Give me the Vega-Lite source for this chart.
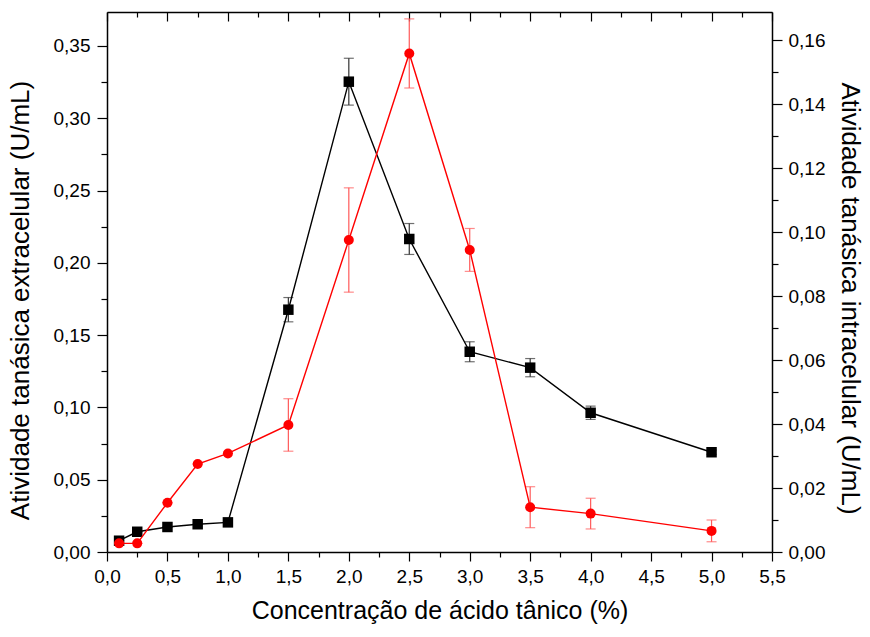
{
  "$schema": "https://vega.github.io/schema/vega-lite/v6.json",
  "width": 665,
  "height": 540,
  "autosize": {"type": "none"},
  "padding": {"left": 107, "top": 12, "right": 98, "bottom": 85},
  "background": "white",
  "config": {
    "view": {"stroke": null},
    "axis": {
      "grid": false,
      "labelFlush": false,
      "labelOverlap": false,
      "domainColor": "black",
      "domainWidth": 1.5,
      "tickColor": "black",
      "tickWidth": 1.2,
      "labelColor": "black",
      "labelFont": "Liberation Sans",
      "labelFontSize": 19,
      "titleColor": "black",
      "titleFont": "Liberation Sans",
      "titleFontSize": 26,
      "titleFontWeight": "normal"
    }
  },
  "data": {
    "values": [
      {"c": 0.1, "ext": 0.0078, "ext_sd": 0, "int": 0.0027, "int_sd": 0},
      {"c": 0.25, "ext": 0.014, "ext_sd": 0, "int": 0.0027, "int_sd": 0},
      {"c": 0.5, "ext": 0.0173, "ext_sd": 0, "int": 0.0154, "int_sd": 0},
      {"c": 0.75, "ext": 0.0192, "ext_sd": 0, "int": 0.0275, "int_sd": 0},
      {"c": 1.0, "ext": 0.0205, "ext_sd": 0, "int": 0.0308, "int_sd": 0},
      {"c": 1.5, "ext": 0.1676, "ext_sd": 0.0084, "int": 0.0397, "int_sd": 0.0082},
      {"c": 2.0, "ext": 0.3253, "ext_sd": 0.0162, "int": 0.0975, "int_sd": 0.0163},
      {"c": 2.5, "ext": 0.2165, "ext_sd": 0.0107, "int": 0.1558, "int_sd": 0.0108},
      {"c": 3.0, "ext": 0.1385, "ext_sd": 0.0069, "int": 0.0944, "int_sd": 0.0067},
      {"c": 3.5, "ext": 0.1275, "ext_sd": 0.0063, "int": 0.014, "int_sd": 0.0064},
      {"c": 4.0, "ext": 0.0963, "ext_sd": 0.0046, "int": 0.012, "int_sd": 0.0048},
      {"c": 5.0, "ext": 0.069, "ext_sd": 0.0015, "int": 0.0066, "int_sd": 0.0034}
    ]
  },
  "layer": [
    {
      "encoding": {
        "x": {
          "field": "c",
          "type": "quantitative",
          "scale": {"domain": [0, 5.5], "nice": false, "zero": false, "padding": 0},
          "axis": {
            "orient": "bottom",
            "title": "Concentração de ácido tânico (%)",
            "titleFontSize": 25,
            "titlePadding": 12,
            "labelPadding": 6,
            "values": [0, 0.25, 0.5, 0.75, 1, 1.25, 1.5, 1.75, 2, 2.25, 2.5, 2.75, 3, 3.25, 3.5, 3.75, 4, 4.25, 4.5, 4.75, 5, 5.25, 5.5],
            "labelExpr": "(datum.value * 2) % 1 == 0 ? replace(format(datum.value, '.1f'), '.', ',') : ''",
            "tickSize": {"condition": {"test": "(datum.value * 2) % 1 == 0", "value": 9}, "value": 5}
          }
        },
        "y": {
          "field": "ext",
          "type": "quantitative",
          "scale": {"domain": [0, 0.3735], "nice": false, "padding": 0},
          "axis": {
            "orient": "left",
            "title": "Atividade tanásica extracelular (U/mL)",
            "titlePadding": 20,
            "titleY": 288,
            "labelPadding": 7,
            "values": [0, 0.025, 0.05, 0.075, 0.1, 0.125, 0.15, 0.175, 0.2, 0.225, 0.25, 0.275, 0.3, 0.325, 0.35],
            "labelExpr": "abs(datum.value * 20 - round(datum.value * 20)) < 1e-6 ? replace(format(datum.value, '.2f'), '.', ',') : ''",
            "tickSize": {"condition": {"test": "abs(datum.value * 20 - round(datum.value * 20)) < 1e-6", "value": 10}, "value": 6}
          }
        }
      },
      "layer": [
        {
          "mark": {"type": "errorbar", "ticks": {"size": 10}, "color": "#333333", "thickness": 1.2},
          "encoding": {"yError": {"field": "ext_sd"}}
        },
        {
          "mark": {"type": "line", "color": "black", "strokeWidth": 1.4}
        },
        {
          "mark": {"type": "point", "shape": "square", "filled": true, "color": "black", "size": 110, "opacity": 1}
        }
      ]
    },
    {
      "encoding": {
        "x": {
          "field": "c",
          "type": "quantitative",
          "scale": {"domain": [0, 5.5], "nice": false, "zero": false, "padding": 0},
          "axis": {
            "orient": "top",
            "title": null,
            "labels": false,
            "values": [0, 0.25, 0.5, 0.75, 1, 1.25, 1.5, 1.75, 2, 2.25, 2.5, 2.75, 3, 3.25, 3.5, 3.75, 4, 4.25, 4.5, 4.75, 5, 5.25, 5.5],
            "tickSize": {"condition": {"test": "(datum.value * 2) % 1 == 0", "value": -9}, "value": -5}
          }
        },
        "y": {
          "field": "int",
          "type": "quantitative",
          "scale": {"domain": [0, 0.16875], "nice": false, "padding": 0},
          "axis": {
            "orient": "right",
            "title": "Atividade tanásica intracelular (U/mL)",
            "titlePadding": 12,
            "titleY": 286,
            "labelPadding": 6,
            "values": [0, 0.01, 0.02, 0.03, 0.04, 0.05, 0.06, 0.07, 0.08, 0.09, 0.1, 0.11, 0.12, 0.13, 0.14, 0.15, 0.16],
            "labelExpr": "abs(datum.value * 50 - round(datum.value * 50)) < 1e-6 ? replace(format(datum.value, '.2f'), '.', ',') : ''",
            "tickSize": {"condition": {"test": "abs(datum.value * 50 - round(datum.value * 50)) < 1e-6", "value": 10}, "value": 6}
          }
        }
      },
      "layer": [
        {
          "mark": {"type": "errorbar", "ticks": {"size": 10}, "color": "#ff5a5a", "thickness": 1.2},
          "encoding": {"yError": {"field": "int_sd"}}
        },
        {
          "mark": {"type": "line", "color": "#ff0000", "strokeWidth": 1.4}
        },
        {
          "mark": {"type": "point", "shape": "circle", "filled": true, "color": "#ff0000", "size": 100, "opacity": 1}
        }
      ]
    }
  ],
  "resolve": {"scale": {"x": "independent", "y": "independent"}}
}
